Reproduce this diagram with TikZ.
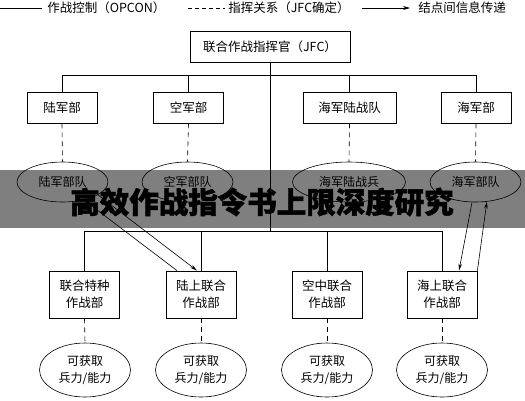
\documentclass[tikz,border=0pt]{standalone}
\usepackage{fontspec}
\setmainfont{Noto Sans CJK SC}
\usetikzlibrary{shapes.geometric,arrows.meta}
\tikzset{
  box/.style={draw, thick, minimum height=31pt, inner sep=0pt, font=\fontsize{12.5}{16}\selectfont},
  jbox/.style={draw, thick, minimum width=70pt, minimum height=47pt, inner sep=0pt, align=center, font=\fontsize{12.5}{17}\selectfont},
  unit/.style={draw, ellipse, minimum width=91pt, minimum height=40pt, inner sep=0pt, font=\fontsize{12}{15}\selectfont},
  force/.style={draw, ellipse, minimum width=91pt, minimum height=54pt, inner sep=0pt, align=center, font=\fontsize{12}{17}\selectfont},
  cmd/.style={dash pattern=on 5pt off 4pt},
  info/.style={-{Stealth[length=7pt,width=3.5pt]}},
}
\begin{document}
\begin{tikzpicture}[x=1pt, y=-1pt, line width=0.6pt]
    \useasboundingbox (0,0) rectangle (525,400);
    % Legend
    \coordinate (lgA) at (0,8);
    \coordinate (lgB) at (188,8);
    \coordinate (lgC) at (362,8);
    \node[anchor=west, inner sep=0pt, font=\fontsize{12.5}{14}\selectfont] (opcon) at (47,8) {作战控制（OPCON）};
    \node[anchor=west, inner sep=0pt, font=\fontsize{12.5}{14}\selectfont] (jfcrel) at (228,8) {指挥关系（JFC确定）};
    \node[anchor=west, inner sep=0pt, font=\fontsize{12.5}{14}\selectfont] (infor) at (418,8) {结点间信息传递};
    \draw (lgA) -- ([xshift=-5pt]opcon.west);
    \draw[dash pattern=on 4pt off 3pt] (lgB) -- ([xshift=-3pt]jfcrel.west);
    \draw[-{Stealth[length=7pt,width=4pt]}] (lgC) -- ([xshift=-8pt]infor.west);

    % Nodes
    \node[box, minimum width=160pt] (jfc) at (270,47) {联合作战指挥官（JFC）};
    \node[box, minimum width=70pt] (lu) at (62,107.5) {陆军部};
    \node[box, minimum width=70pt] (kong) at (188.5,107.5) {空军部};
    \node[box, minimum width=93pt] (hmz) at (349.5,107.5) {海军陆战队};
    \node[box, minimum width=70pt] (hai) at (476,107.5) {海军部};

    \node[unit] (luB) at (62.5,182) {陆军部队};
    \node[unit] (kongB) at (187.5,182) {空军部队};
    \node[unit, minimum width=113pt] (hmzB) at (349,182) {海军陆战兵};
    \node[unit] (haiB) at (475.5,182) {海军部队};

    \node[jbox] (tz) at (84.5,294.5) {联合特种\\作战部};
    \node[jbox] (ls) at (201,294.5) {陆上联合\\作战部};
    \node[jbox] (kz) at (327,294.5) {空中联合\\作战部};
    \node[jbox] (hs) at (442,294.5) {海上联合\\作战部};

    \node[force] (tzF) at (85,370) {可获取\\兵力/能力};
    \node[force] (lsF) at (201,370) {可获取\\兵力/能力};
    \node[force] (kzF) at (327,370) {可获取\\兵力/能力};
    \node[force] (hsF) at (442,370) {可获取\\兵力/能力};

    % Edges
    \draw (jfc.south) -- ++(0,169);            % OPCON trunk
    \draw (lu.north) -- ++(0,-16) -| (hai.north);
    \draw (kong.north) -- ++(0,-16);
    \draw (hmz.north) -- ++(0,-16);
    \draw (tz.north) -- ++(0,-39) -| (hs.north);
    \draw (ls.north) -- ++(0,-39);
    \draw (kz.north) -- ++(0,-39);

    \foreach \a/\b in {lu/luB, kong/kongB, hmz/hmzB, hai/haiB, tz/tzF, ls/lsF, kz/kzF, hs/hsF}
        \draw[cmd] (\a.south) -- (\b.north);

    \draw[info] ([xshift=-24pt]ls.north) -- (luB.-40);
    \draw[info] (luB.-20) -- ([xshift=-4pt]ls.north);
    \draw[info] ([xshift=-3.5pt]haiB.south) -- ([xshift=17pt]hs.north);
    \draw[info] (hs.north east) -- (haiB.-60);

    % Banner
    \fill[black, opacity=0.5] (0,170) rectangle (525,228);
    \node[font=\fontsize{29.5}{30}\selectfont\bfseries\addfontfeature{FakeBold=1.5}, inner sep=0pt] (banner) at (262,202) {高效作战指令书上限深度研究};
\end{tikzpicture}
\end{document}
